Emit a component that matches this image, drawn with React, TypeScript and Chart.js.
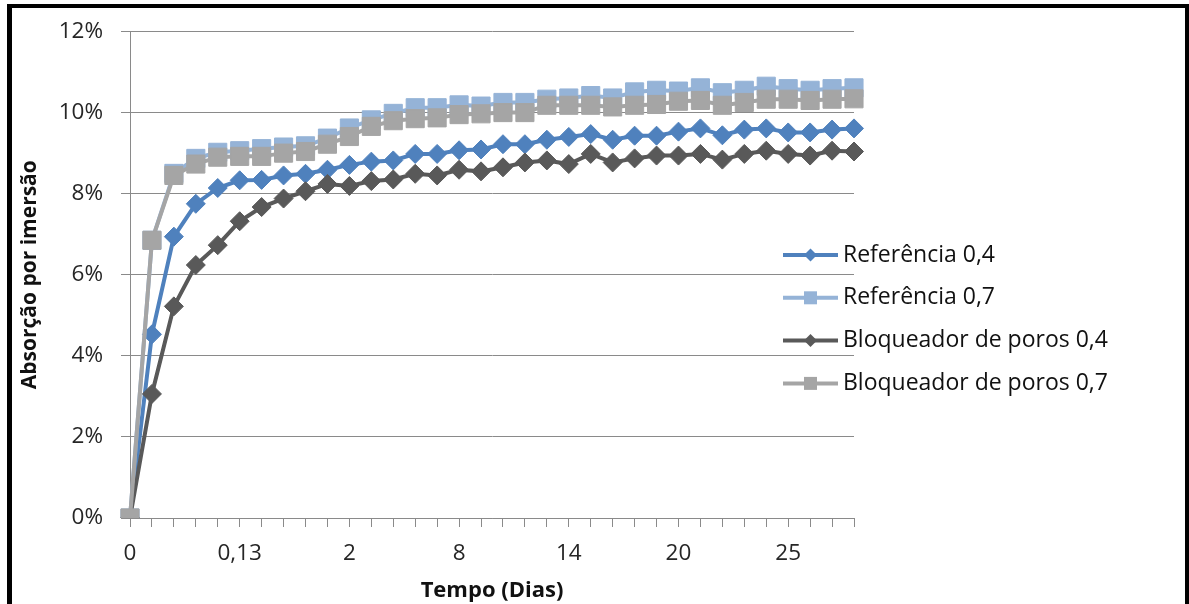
import React, { useEffect, useRef } from 'react';
import { Chart, registerables } from 'chart.js';

Chart.register(...registerables);

// Tempo (dias) – category labels (only every 5th is shown on the axis)
const categories: string[] = [
  '0', '0,01', '0,02', '0,04', '0,08', '0,13', '0,25', '0,5', '1', '1,5',
  '2', '3', '4', '5', '7', '8', '9', '10', '11', '12',
  '14', '15', '16', '17', '18', '20', '21', '22', '23', '24',
  '25', '26', '27', '28',
];

const seriesNames: string[] = [
  'Referência 0,4',
  'Referência 0,7',
  'Bloqueador de poros 0,4',
  'Bloqueador de poros 0,7',
];

// Absorção por imersão (%)
const ref04: number[] = [
  0, 4.53, 6.94, 7.75, 8.14, 8.33, 8.34, 8.45, 8.49, 8.59,
  8.71, 8.79, 8.82, 8.98, 8.98, 9.07, 9.09, 9.22, 9.22, 9.33,
  9.40, 9.47, 9.33, 9.43, 9.43, 9.53, 9.61, 9.44, 9.58, 9.61,
  9.51, 9.51, 9.58, 9.61,
];
const ref07: number[] = [
  0, 6.85, 8.50, 8.87, 9.02, 9.06, 9.11, 9.15, 9.18, 9.37,
  9.62, 9.82, 9.98, 10.12, 10.12, 10.19, 10.16, 10.25, 10.25, 10.33,
  10.36, 10.42, 10.36, 10.51, 10.55, 10.53, 10.61, 10.49, 10.55, 10.65,
  10.59, 10.55, 10.59, 10.61,
];
const bloq04: number[] = [
  0, 3.06, 5.22, 6.24, 6.73, 7.32, 7.67, 7.88, 8.06, 8.24,
  8.19, 8.31, 8.35, 8.49, 8.45, 8.59, 8.55, 8.65, 8.77, 8.82,
  8.73, 8.98, 8.77, 8.87, 8.94, 8.94, 8.98, 8.84, 8.98, 9.06,
  8.98, 8.94, 9.06, 9.04,
];
const bloq07: number[] = [
  0, 6.85, 8.45, 8.73, 8.90, 8.92, 8.92, 9.00, 9.04, 9.22,
  9.41, 9.66, 9.80, 9.85, 9.87, 9.95, 9.97, 10.00, 10.00, 10.18,
  10.18, 10.18, 10.14, 10.18, 10.20, 10.28, 10.30, 10.18, 10.25, 10.33,
  10.33, 10.30, 10.33, 10.34,
];

const yTicks: number[] = [0, 2, 4, 6, 8, 10, 12];

const colors = ['#4F81BD', '#95B3D7', '#595959', '#A5A5A5'];
const markers = ['rectRot', 'rect', 'rectRot', 'rect'];

const FONT = "'Open Sans', 'Noto Sans', sans-serif";
const GRID = '#8a8a8a';

const excelLegend = {
  id: 'excelLegend',
  afterDraw(chart: any, _args: any, opts: any) {
    const { ctx, chartArea } = chart;
    const xLineStart = chartArea.right + opts.lineStart;
    const xLineEnd = chartArea.right + opts.lineEnd;
    const xText = chartArea.right + opts.textStart;
    const xMid = (xLineStart + xLineEnd) / 2;
    ctx.save();
    ctx.font = `${opts.fontSize}px ${FONT}`;
    ctx.textBaseline = 'middle';
    ctx.textAlign = 'left';
    chart.data.datasets.forEach((ds: any, i: number) => {
      const y = chartArea.top + opts.top + i * opts.spacing;
      ctx.strokeStyle = ds.borderColor;
      ctx.lineWidth = 4;
      ctx.beginPath();
      ctx.moveTo(xLineStart, y);
      ctx.lineTo(xLineEnd, y);
      ctx.stroke();
      ctx.fillStyle = ds.borderColor;
      ctx.beginPath();
      if (ds.pointStyle === 'rectRot') {
        const r = 6.5;
        ctx.moveTo(xMid - r, y);
        ctx.lineTo(xMid, y - r);
        ctx.lineTo(xMid + r, y);
        ctx.lineTo(xMid, y + r);
        ctx.closePath();
      } else {
        const h = 6.5;
        ctx.rect(xMid - h, y - h, 2 * h, 2 * h);
      }
      ctx.fill();
      ctx.fillStyle = '#111';
      ctx.fillText(ds.label, xText, y);
    });
    ctx.restore();
  },
};

export default function App() {
  const canvasRef = useRef<HTMLCanvasElement | null>(null);

  useEffect(() => {
    if (!canvasRef.current) return;
    const seriesData = [ref04, ref07, bloq04, bloq07];
    const chart = new Chart(canvasRef.current, {
      type: 'line',
      data: {
        labels: categories,
        datasets: seriesData.map((d, i) => ({
          label: seriesNames[i],
          data: d,
          borderColor: colors[i],
          backgroundColor: colors[i],
          pointBackgroundColor: colors[i],
          pointBorderColor: colors[i],
          borderWidth: 4,
          pointStyle: markers[i] as any,
          pointRadius: markers[i] === 'rect' ? 12.8 : 9.5,
          pointBorderWidth: 1,
          tension: 0,
          order: 4 - i,
        })),
      },
      options: {
        responsive: false,
        animation: false,
        layout: { padding: { left: 13, top: 27, right: 335, bottom: 0 } },
        plugins: {
          legend: { display: false },
          tooltip: { enabled: false },
          excelLegend: {
            lineStart: -71,
            lineEnd: -16,
            textStart: -11,
            top: 223.5,
            spacing: 42.8,
            fontSize: 23,
          },
        } as any,
        scales: {
          x: {
            type: 'category',
            offset: false,
            grid: {
              display: true,
              drawOnChartArea: false,
              drawTicks: true,
              tickLength: 9,
              color: GRID,
            },
            border: { display: true, color: GRID, width: 1 },
            ticks: {
              autoSkip: false,
              maxRotation: 0,
              minRotation: 0,
              padding: 13,
              color: '#262626',
              font: { family: FONT, size: 22.5 },
              callback: (_v: any, i: number) => (i % 5 === 0 ? categories[i] : ''),
            },
            title: {
              display: true,
              text: 'Tempo (Dias)',
              color: '#111',
              font: { family: FONT, size: 22, weight: 'bold' },
              padding: { top: 0, bottom: 0 },
            },
            afterFit: (scale: any) => {
              scale.height = 86;
            },
          },
          y: {
            min: yTicks[0],
            max: yTicks[yTicks.length - 1],
            afterBuildTicks: (scale: any) => {
              scale.ticks = yTicks.map((v) => ({ value: v }));
            },
            grid: {
              color: GRID,
              drawTicks: true,
              tickLength: 9,
            },
            border: { display: true, color: GRID, width: 1 },
            ticks: {
              padding: 18,
              color: '#262626',
              font: { family: FONT, size: 22.5 },
              callback: (v: any) => `${v}%`,
            },
            title: {
              display: true,
              text: 'Absorção por imersão',
              color: '#111',
              font: { family: FONT, size: 21, weight: 'bold' },
              padding: { top: 4, bottom: 0 },
            },
            afterFit: (scale: any) => {
              scale.width = 117;
            },
          },
        },
      },
      plugins: [excelLegend],
    });
    return () => chart.destroy();
  }, []);

  return (
    <div
      style={{
        position: 'absolute',
        left: 0,
        top: 0,
        width: 1189,
        height: 604,
        background: '#fff',
        overflow: 'hidden',
      }}
    >
      <canvas ref={canvasRef} width={1189} height={604} style={{ position: 'absolute', left: 0, top: 0 }} />
      <div
        style={{
          position: 'absolute',
          left: 7,
          top: 4,
          width: 1189 - 7 - 5 - 4,
          height: 610,
          borderLeft: '5px solid #000',
          borderTop: '4px solid #000',
          borderRight: '4px solid #000',
          pointerEvents: 'none',
        }}
      />
    </div>
  );
}
